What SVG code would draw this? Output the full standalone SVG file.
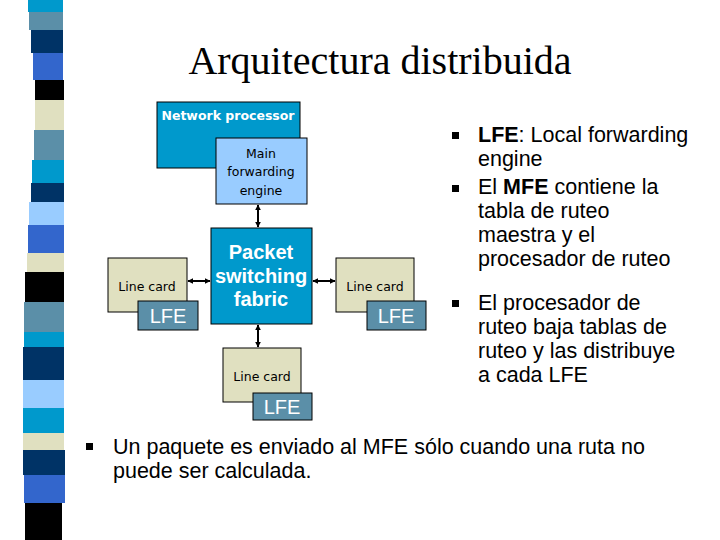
<svg xmlns="http://www.w3.org/2000/svg" width="720" height="540" viewBox="0 0 720 540">
<style>
.box{stroke:#000;stroke-width:1}
.t{font-family:"DejaVu Sans",Verdana,sans-serif;font-size:12.5px;text-anchor:middle}
.l{font-family:"Liberation Sans",Arial,sans-serif;font-size:20px;text-anchor:middle;fill:#fff}
.b{font-family:"Liberation Sans",Arial,sans-serif;font-size:21.5px}
.c{stroke:#000;stroke-width:2;marker-start:url(#a);marker-end:url(#a)}
</style>
<defs><marker id="a" viewBox="0 0 10 10" refX="9" refY="5" markerWidth="3" markerHeight="3" orient="auto-start-reverse"><path d="M0 0L10 5L0 10z"/></marker></defs>
<rect width="720" height="540" fill="#fff"/>
<g id="strip">
<rect x="28" y="0" width="35" height="12" fill="#0099cc"/>
<rect x="29" y="12" width="34" height="18" fill="#5b8fa8"/>
<rect x="31" y="30" width="32" height="23" fill="#003366"/>
<rect x="33" y="53" width="30" height="27" fill="#3366cc"/>
<rect x="35" y="80" width="29" height="20" fill="#000"/>
<rect x="35" y="100" width="29" height="30" fill="#e0e0c0"/>
<rect x="34" y="130" width="30" height="30" fill="#5b8fa8"/>
<rect x="32" y="160" width="32" height="23" fill="#0099cc"/>
<rect x="31" y="183" width="33" height="19" fill="#003366"/>
<rect x="29" y="202" width="35" height="23" fill="#99ccff"/>
<rect x="28" y="225" width="36" height="28" fill="#3366cc"/>
<rect x="27" y="253" width="37" height="19" fill="#e0e0c0"/>
<rect x="25" y="272" width="39" height="30" fill="#000"/>
<rect x="24" y="302" width="40" height="30" fill="#5b8fa8"/>
<rect x="24" y="332" width="40" height="15" fill="#0099cc"/>
<rect x="23" y="347" width="41" height="33" fill="#003366"/>
<rect x="23" y="380" width="41" height="28" fill="#99ccff"/>
<rect x="23" y="408" width="41" height="25" fill="#0099cc"/>
<rect x="23" y="433" width="41" height="17" fill="#e0e0c0"/>
<rect x="23" y="450" width="42" height="25" fill="#003366"/>
<rect x="24" y="475" width="41" height="28" fill="#3366cc"/>
<rect x="25" y="503" width="37" height="37" fill="#000"/>
</g>
<text x="380" y="74" font-family="Liberation Serif,serif" font-size="40" text-anchor="middle">Arquitectura distribuida</text>
<g id="np"><rect class="box" x="157" y="102" width="143" height="66" fill="#0099cc"/><text class="t" x="228" y="120" fill="#fff" font-weight="bold">Network processor</text></g>
<g id="mfe"><rect class="box" x="216" y="138" width="91" height="66" fill="#99ccff"/><text class="t" x="261" y="158">Main</text><text class="t" x="261" y="176">forwarding</text><text class="t" x="261" y="195">engine</text></g>
<g id="psf"><rect class="box" x="211" y="228" width="101" height="96" fill="#0099cc"/><text class="l" x="261" y="259" font-weight="bold">Packet</text><text class="l" x="261" y="283" font-weight="bold">switching</text><text class="l" x="261" y="306" font-weight="bold">fabric</text></g>
<g id="lcl"><rect class="box" x="108" y="258" width="79" height="54" fill="#e0e0c0"/><text class="t" x="147" y="291">Line card</text></g>
<g id="lfel"><rect class="box" x="138" y="301" width="60" height="29" fill="#5b8fa8"/><text class="l" x="168" y="323">LFE</text></g>
<g id="lcr"><rect class="box" x="336" y="258" width="78" height="54" fill="#e0e0c0"/><text class="t" x="375" y="291">Line card</text></g>
<g id="lfer"><rect class="box" x="367" y="301" width="59" height="29" fill="#5b8fa8"/><text class="l" x="396" y="323">LFE</text></g>
<g id="lcb"><rect class="box" x="223" y="348" width="78" height="54" fill="#e0e0c0"/><text class="t" x="262" y="381">Line card</text></g>
<g id="lfeb"><rect class="box" x="253" y="393" width="59" height="27" fill="#5b8fa8"/><text class="l" x="282" y="414">LFE</text></g>
<g id="connectors">
<line class="c" x1="258" y1="205" x2="258" y2="227"/>
<line class="c" x1="258" y1="325" x2="258" y2="347"/>
<line class="c" x1="188" y1="281" x2="210" y2="281"/>
<line class="c" x1="313" y1="281" x2="335" y2="281"/>
</g>
<g fill="#000">
<rect x="452" y="132" width="7" height="7"/><rect x="452" y="185" width="7" height="7"/><rect x="452" y="300" width="7" height="7"/><rect x="86" y="443" width="7" height="7"/>
</g>
<g class="b">
<text x="478" y="142"><tspan font-weight="bold">LFE</tspan>: Local forwarding</text>
<text x="478" y="166">engine</text>
<text x="478" y="194">El <tspan font-weight="bold">MFE</tspan> contiene la</text>
<text x="478" y="218">tabla de ruteo</text>
<text x="478" y="242">maestra y el</text>
<text x="478" y="266">procesador de ruteo</text>
<text x="478" y="310">El procesador de</text>
<text x="478" y="334">ruteo baja tablas de</text>
<text x="478" y="358">ruteo y las distribuye</text>
<text x="478" y="382">a cada LFE</text>
<text x="113" y="454">Un paquete es enviado al MFE sólo cuando una ruta no</text>
<text x="113" y="478">puede ser calculada.</text>
</g>
</svg>
